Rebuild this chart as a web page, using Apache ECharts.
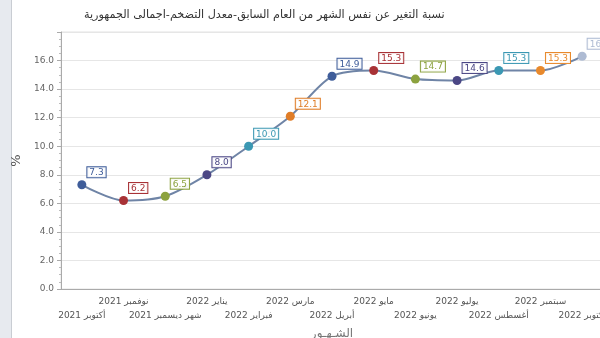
<!DOCTYPE html>
<html><head><meta charset="utf-8">
<script src="https://cdn.jsdelivr.net/npm/echarts@6/dist/echarts.min.js"></script>
<style>html,body{margin:0;padding:0;background:#fff}#c{width:600px;height:338px}</style>
</head><body><div id="c"></div>
<script>
const categories = ['أكتوبر 2021','نوفمبر 2021','شهر ديسمبر 2021','يناير 2022','فبراير 2022','مارس 2022','أبريل 2022','مايو 2022','يونيو 2022','يوليو 2022','أغسطس 2022','سبتمبر 2022','أكتوبر 2022'];
const inflation = [7.3, 6.2, 6.5, 8.0, 10.0, 12.1, 14.9, 15.3, 14.7, 14.6, 15.3, 15.3, 16.3];
const pointColors = ['#3f5d9a','#a83236','#8ca23f','#4b4785','#3b98b3','#e07d27','#3f5d9a','#a83236','#8ca23f','#4b4785','#3b98b3','#e8892c','#aebbd3'];
const yTicks = [0, 2, 4, 6, 8, 10, 12, 14, 16];

const chart = echarts.init(document.getElementById('c'));
const data = inflation.map((v, i) => ({
  value: v,
  itemStyle: { color: pointColors[i] },
  label: { color: pointColors[i], borderColor: pointColors[i] }
}));
chart.setOption({
  animation: false,
  backgroundColor: '#fff',
  graphic: [
    { type: 'rect', shape: { x: 0, y: 0, width: 11, height: 338 }, style: { fill: '#e7eaef' }, silent: true },
    { type: 'line', shape: { x1: 11.5, y1: 0, x2: 11.5, y2: 338 }, style: { stroke: '#c9cdd3', lineWidth: 1 }, silent: true }
  ],
  title: {
    text: 'نسبة التغير عن نفس الشهر من العام السابق-معدل التضخم-اجمالى الجمهورية',
    left: 79, top: 5,
    textStyle: { fontFamily: 'DejaVu Sans', fontSize: 11.2, fontWeight: 'normal', color: '#333' }
  },
  grid: { left: 61, top: 32, width: 542, bottom: 49, outerBoundsMode: 'none', containLabel: false, show: true, borderColor: '#e2e2e2', borderWidth: 1 },
  xAxis: {
    type: 'category',
    data: categories,
    boundaryGap: true,
    name: 'الشـهـور',
    nameLocation: 'middle',
    nameGap: 32,
    nameTextStyle: { fontFamily: 'DejaVu Sans', fontSize: 12, color: '#777' },
    axisLine: { lineStyle: { color: '#aaa' } },
    axisTick: { alignWithLabel: false, interval: 0, length: 4, lineStyle: { color: '#aaa' } },
    axisLabel: {
      interval: 0, margin: 6, fontFamily: 'DejaVu Sans', fontSize: 9, color: '#555', lineHeight: 14,
      formatter: (v, i) => (i % 2 === 0 ? '\n' + v : v)
    },
    splitLine: { show: false }
  },
  yAxis: {
    type: 'value',
    min: 0, max: 18, interval: 2,
    name: '%',
    nameLocation: 'middle',
    nameGap: 37,
    nameRotate: 90,
    nameTextStyle: { fontFamily: 'DejaVu Sans', fontSize: 13, color: '#555' },
    axisLine: { show: true, lineStyle: { color: '#aaa' } },
    axisTick: { show: true, length: 4, lineStyle: { color: '#aaa' } },
    minorTick: { show: true, splitNumber: 4, length: 2, lineStyle: { color: '#bbb' } },
    axisLabel: {
      fontFamily: 'DejaVu Sans', fontSize: 9, color: '#666', margin: 7, showMaxLabel: false,
      formatter: v => (yTicks.includes(v) ? v.toFixed(1) : '')
    },
    splitLine: { lineStyle: { color: '#e6e6e6' } }
  },
  series: [{
    type: 'line',
    data: data,
    smooth: 0.3,
    symbol: 'circle',
    symbolSize: 9,
    lineStyle: { color: '#6f84a6', width: 2 },
    label: {
      show: true,
      position: [10, -13],
      fontFamily: 'DejaVu Sans',
      fontSize: 9,
      backgroundColor: 'rgba(255,255,255,0.9)',
      borderWidth: 1,
      padding: [1, 2, 0, 2],
      formatter: p => p.value.toFixed(1)
    }
  }]
});
</script></body></html>
